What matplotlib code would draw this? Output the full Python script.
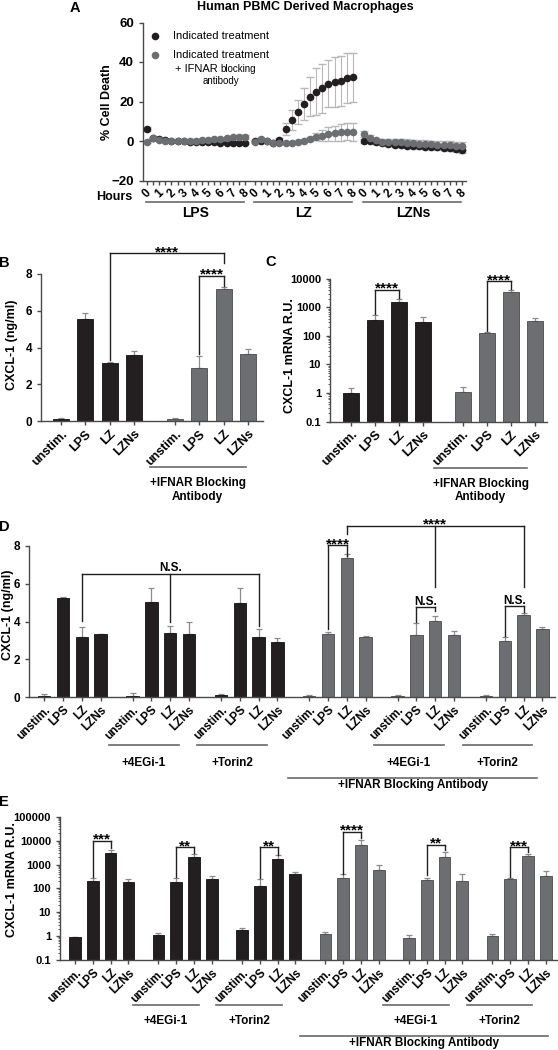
import numpy as np
import matplotlib
matplotlib.use("Agg")
import matplotlib.pyplot as plt
from matplotlib.ticker import LogLocator, NullFormatter

# ---------------- data: panel A (% cell death, every 30 min, 0-8 h) ----------------
hour_labels = ["0", "1", "2", "3", "4", "5", "6", "7", "8"]
treatments = ["LPS", "LZ", "LZNs"]

lps_ctrl = [6.1, 1.5, 0.8, 0.3, 0.0, 0.0, -0.2, -0.3, -0.4, -0.5, -0.6, -0.7, -0.8, -0.8, -0.8, -0.9, -1.2]
lps_ctrl_sd = [0.8, 0.5, 0.4, 0.4, 0.4, 0.4, 0.4, 0.4, 0.5, 0.5, 0.5, 0.5, 0.5, 0.5, 0.5, 0.5, 0.5]
lps_ifnar = [-0.5, 1.5, 0.6, 0.1, 0.0, 0.0, 0.0, 0.0, 0.2, 0.4, 0.6, 0.8, 1.0, 1.4, 1.8, 2.0, 2.0]
lps_ifnar_sd = [0.5, 0.6, 0.5, 0.5, 0.5, 0.5, 0.5, 0.5, 0.6, 0.6, 0.7, 0.7, 0.8, 0.8, 0.9, 1.0, 1.0]

lz_ctrl = [0.0, 0.2, 0.0, -0.8, 0.5, 6.1, 10.7, 14.6, 18.6, 22.5, 25.0, 26.7, 28.9, 29.8, 30.5, 31.8, 32.3]
lz_ctrl_sd = [0.5, 0.5, 0.5, 0.5, 0.8, 3.2, 5.0, 6.2, 8.1, 9.8, 11.9, 12.4, 11.9, 12.7, 12.6, 12.7, 12.5]
lz_ifnar = [-0.3, 1.0, 0.2, -1.2, -1.2, -0.9, -0.9, -0.6, 0.2, 1.2, 2.2, 2.7, 3.6, 3.9, 4.4, 4.7, 4.7]
lz_ifnar_sd = [0.5, 0.5, 0.5, 0.5, 0.5, 0.5, 0.5, 0.6, 0.8, 1.0, 1.7, 2.9, 3.4, 3.7, 4.2, 4.3, 4.6]

lzns_ctrl = [0.2, 0.0, -0.5, -1.0, -1.4, -1.8, -2.0, -2.3, -2.5, -2.7, -2.9, -3.0, -3.2, -3.3, -3.5, -4.3, -4.5]
lzns_ctrl_sd = [1.0, 1.0, 0.9, 0.9, 1.0, 1.0, 1.1, 1.1, 1.2, 1.2, 1.2, 1.3, 1.3, 1.3, 1.4, 1.4, 1.4]
lzns_ifnar = [3.5, 1.6, 0.4, -0.4, -0.6, -0.6, -0.7, -0.9, -1.1, -1.3, -1.5, -1.7, -1.8, -2.0, -2.1, -2.5, -2.6]
lzns_ifnar_sd = [1.5, 1.2, 1.0, 1.2, 1.4, 1.5, 1.6, 1.7, 1.8, 1.8, 1.9, 1.9, 2.0, 2.0, 2.0, 2.1, 2.1]

# ---------------- data: bar panels ----------------
bar_labels = ["unstim.", "LPS", "LZ", "LZNs"]
inhibitors = ["+4EGi-1", "+Torin2"]
ifnar_label = "+IFNAR Blocking Antibody"

# B: CXCL-1 protein (ng/ml)
b_ctrl = [0.10, 5.55, 3.15, 3.60]
b_ctrl_err = [0.08, 0.35, 0.05, 0.22]
b_ifnar = [0.10, 2.90, 7.20, 3.65]
b_ifnar_err = [0.09, 0.65, 0.10, 0.25]

# C: CXCL-1 mRNA R.U.
c_ctrl = [1.0, 350, 1500, 300]
c_ctrl_err = [0.45, 165, 400, 150]
c_ifnar = [1.1, 125, 3500, 320]
c_ifnar_err = [0.5, 15, 400, 100]

# D: CXCL-1 protein, none / +4EGi-1 / +Torin2, without and with IFNAR block
d_ctrl = [[0.05, 5.22, 3.19, 3.32], [0.05, 5.04, 3.40, 3.33], [0.12, 4.96, 3.19, 2.89]]
d_ctrl_err = [[0.10, 0.08, 0.53, 0.04], [0.15, 0.74, 0.37, 0.62], [0.05, 0.79, 0.39, 0.21]]
d_ifnar = [[0.05, 3.32, 7.34, 3.16], [0.05, 3.28, 4.02, 3.28], [0.05, 2.96, 4.34, 3.58]]
d_ifnar_err = [[0.05, 0.10, 0.26, 0.06], [0.05, 0.62, 0.27, 0.20], [0.05, 0.23, 0.09, 0.11]]

# E: CXCL-1 mRNA R.U., same layout as D
e_ctrl = [[0.94, 209, 3090, 178], [1.11, 190, 2090, 245], [1.8, 129, 1700, 400]]
e_ctrl_err = [[0.02, 54, 910, 62], [0.19, 73, 780, 79], [0.3, 111, 750, 90]]
e_ifnar = [[1.19, 275, 6900, 615], [0.81, 223, 2090, 205], [1.0, 240, 2280, 325]]
e_ifnar_err = [[0.26, 115, 3500, 315], [0.29, 52, 1290, 185], [0.19, 23, 420, 225]]

# ---------------- style ----------------
plt.rcParams['font.family'] = ['Liberation Sans', 'DejaVu Sans']
plt.rcParams['font.weight'] = 'bold'
plt.rcParams['axes.labelweight'] = 'bold'

BLACK = '#231f20'
GRAY = '#6d6e71'
EDGE = {BLACK: '#111111', GRAY: '#4a4a4a'}
AXC = '#4a4a4a'
ERRC = '#8c8c8c'
ERR_A = '#b8b8b8'
LINEC = '#6a6a6a'

W, H = 558, 1050
fig = plt.figure(figsize=(W / 100, H / 100), dpi=100)


def add_ax(left, top, right, bottom):
    ax = fig.add_axes([left / W, 1 - bottom / H, (right - left) / W, (bottom - top) / H])
    ax._px = (left, top, right, bottom)
    return ax


def ftext(x, y, s, **kw):
    kw.setdefault('ha', 'center')
    kw.setdefault('va', 'center')
    fig.text(x / W, 1 - y / H, s, **kw)


def yfrac(ax, py):
    l, t, r, b = ax._px
    return (b - py) / (b - t)


def style(ax, fs=8):
    for s in ['top', 'right']:
        ax.spines[s].set_visible(False)
    for s in ['left', 'bottom']:
        ax.spines[s].set_color(AXC)
        ax.spines[s].set_linewidth(1.0)
    ax.tick_params(colors=AXC, labelcolor='black', width=1, length=3, labelsize=fs)


def under(ax, x0, x1, py):
    y = yfrac(ax, py)
    ax.plot([x0, x1], [y, y], transform=ax.get_xaxis_transform(), clip_on=False,
            color=LINEC, lw=1.2)


def under_text(ax, x, py, s, fs=8.5):
    ax.text(x, yfrac(ax, py), s, transform=ax.get_xaxis_transform(), ha='center',
            va='center', fontsize=fs, fontweight='bold')


def bracket(ax, xs, top, bottoms, text, fs=None):
    ax.plot([xs[0], xs[-1]], [top, top], color=BLACK, lw=1, clip_on=False)
    for x, b in zip(xs, bottoms):
        ax.plot([x, x], [b, top], color=BLACK, lw=1, clip_on=False)
    stars = text.startswith('*')
    ax.annotate(text, xy=((xs[0] + xs[-1]) / 2, top), xytext=(0, -2 if stars else 1.5),
                textcoords='offset points', ha='center', va='baseline',
                fontsize=fs or (11 if stars else 8.5), fontweight='bold',
                annotation_clip=False)


def draw_bars(ax, groups, errs, colors, step, fs):
    ticks = []
    for g, (vals, err, col) in enumerate(zip(groups, errs, colors)):
        x = g * step + np.arange(len(vals))
        ax.errorbar(x, vals, yerr=[np.zeros(len(vals)), err], fmt='none', ecolor=ERRC,
                    elinewidth=0.9, capsize=2.5, capthick=0.9, zorder=1)
        ax.bar(x, vals, width=0.66, color=col, edgecolor=EDGE[col], linewidth=0.6, zorder=2)
        ticks.extend(x)
    ax.set_xticks(ticks)
    ax.set_xticklabels(bar_labels * len(groups), rotation=45, ha='right',
                       rotation_mode='anchor', fontsize=fs)
    ax.tick_params(axis='x', pad=2)


def log_axis(ax, lo, hi):
    ax.set_yscale('log')
    ax.set_ylim(lo, hi)
    ticks = [10.0 ** k for k in range(int(np.log10(lo)), int(np.log10(hi)) + 1)]
    ax.set_yticks(ticks)
    ax.set_yticklabels(['%g' % t for t in ticks])
    ax.yaxis.set_minor_locator(LogLocator(base=10, subs=np.arange(2, 10)))
    ax.yaxis.set_minor_formatter(NullFormatter())
    ax.tick_params(axis='y', which='minor', length=1.5, width=0.6, colors=AXC)


# ---------------- panel A ----------------
axA = add_ax(143, 22.5, 466, 180.5)
style(axA, fs=9.5)
offsets = [0, 17.63, 35.43]
ctrl = [lps_ctrl, lz_ctrl, lzns_ctrl]
ctrl_sd = [lps_ctrl_sd, lz_ctrl_sd, lzns_ctrl_sd]
ifn = [lps_ifnar, lz_ifnar, lzns_ifnar]
ifn_sd = [lps_ifnar_sd, lz_ifnar_sd, lzns_ifnar_sd]
xt, xl = [], []
for k in range(3):
    x = offsets[k] + np.arange(len(ctrl[k]))
    axA.errorbar(x, ctrl[k], yerr=ctrl_sd[k], fmt='none', ecolor=ERR_A, elinewidth=0.8,
                 capsize=3, zorder=1)
    axA.errorbar(x, ifn[k], yerr=ifn_sd[k], fmt='none', ecolor=ERR_A, elinewidth=0.8,
                 capsize=3, zorder=1)
    axA.plot(x, ctrl[k], 'o', color=BLACK, ms=5.5, mec='none', zorder=3)
    axA.plot(x, ifn[k], 'o', color=GRAY, ms=5.5, mec='none', zorder=4)
    xt.extend(x)
    xl.extend([hour_labels[i // 2] if i % 2 == 0 else '' for i in range(len(x))])
    under(axA, x[0] - 0.2, x[-1] - 0.1, 201.7)
    under_text(axA, x[8], 213, treatments[k], fs=10)
axA.set_xlim(-0.65, 52.1)
axA.set_ylim(-20, 60)
axA.set_yticks([-20, 0, 20, 40, 60])
axA.set_xticks(xt)
axA.set_xticklabels(xl, rotation=45, fontsize=8.5)
axA.tick_params(axis='x', length=3, pad=1.5)

# legend drawn by hand
axA.plot([(155 - 143) / 323], [yfrac(axA, 35.7)], 'o', color=BLACK, ms=5.5, mec='none',
         transform=axA.transAxes, clip_on=False)
axA.plot([(155 - 143) / 323], [yfrac(axA, 54.5)], 'o', color=GRAY, ms=5.5, mec='none',
         transform=axA.transAxes, clip_on=False)
ftext(173, 35.7, "Indicated treatment", ha='left', fontsize=8, fontweight='normal')
ftext(173, 54.5, "Indicated treatment", ha='left', fontsize=8, fontweight='normal')
ftext(175, 69, "+ IFNAR", ha='left', fontsize=8, fontweight='normal')
ftext(220, 69.5, "blocking", ha='left', fontsize=7, fontweight='normal')
ftext(221, 80.5, "antibody", fontsize=7, fontweight='normal')

ftext(75, 8, "A", fontsize=10.5)
ftext(305, 7, "Human PBMC Derived Macrophages", fontsize=9)
ftext(107, 102, "% Cell Death", rotation=90, fontsize=9)
ftext(114, 197, "Hours", fontsize=9)

# ---------------- panel B ----------------
axB = add_ax(41, 274, 263, 421)
style(axB, fs=8.5)
sB = 4.67
draw_bars(axB, [b_ctrl, b_ifnar], [b_ctrl_err, b_ifnar_err], [BLACK, GRAY], sB, 9)
axB.set_xlim((41 - 61) / 24.4, (263 - 61) / 24.4)
axB.set_ylim(0, 8)
axB.set_yticks([0, 2, 4, 6, 8])
bracket(axB, [2, sB + 2], 9.13, [3.32, 8.59], '****')
bracket(axB, [sB + 1, sB + 2], 7.9, [3.62, 7.35], '****')
under(axB, 3.65, 7.58, 467)
under_text(axB, 5.6, 483, "+IFNAR Blocking")
under_text(axB, 5.6, 497, "Antibody")
ftext(4, 263, "B", fontsize=10.5)
ftext(12, 345, "CXCL-1 (ng/ml)", rotation=90, fontsize=9)

# ---------------- panel C ----------------
axC = add_ax(330, 278.6, 547, 421.7)
style(axC, fs=8)
log_axis(axC, 0.1, 10000)
sC = 4.65
draw_bars(axC, [c_ctrl, c_ifnar], [c_ctrl_err, c_ifnar_err], [BLACK, GRAY], sC, 9)
axC.set_xlim((330 - 351) / 24, (547 - 351) / 24)
bracket(axC, [1, 2], 4100, [560, 2040], '****')
bracket(axC, [sC + 1, sC + 2], 7950, [150, 4200], '****')
under(axC, 3.46, 7.33, 468)
under_text(axC, 5.4, 484, "+IFNAR Blocking")
under_text(axC, 5.4, 497, "Antibody")
ftext(271, 262, "C", fontsize=10.5)
ftext(290, 356, "CXCL-1 mRNA R.U.", rotation=90, fontsize=9)

# ---------------- panel D ----------------
axD = add_ax(29, 546, 555, 697)
style(axD, fs=8.5)
sD = 4.7
draw_bars(axD, d_ctrl + d_ifnar, d_ctrl_err + d_ifnar_err, [BLACK] * 3 + [GRAY] * 3, sD, 8.5)
axD.set_xlim((29 - 44.2) / 18.8, (555 - 44.2) / 18.8)
axD.set_ylim(0, 8)
axD.set_yticks([0, 2, 4, 6, 8])
bracket(axD, [2, sD + 2, 2 * sD + 2], 6.54, [4.05, 4.0, 3.75], 'N.S.')
bracket(axD, [3 * sD + 2, 4 * sD + 2, 5 * sD + 2], 9.05, [8.62, 5.82, 5.82], '****')
bracket(axD, [3 * sD + 1, 3 * sD + 2], 8.04, [3.58, 7.46], '****')
bracket(axD, [4 * sD + 1, 4 * sD + 2], 4.78, [3.95, 4.55], 'N.S.')
bracket(axD, [5 * sD + 1, 5 * sD + 2], 4.83, [3.25, 4.51], 'N.S.')
for g, name in zip([1, 2, 4, 5], inhibitors * 2):
    under(axD, g * sD - 1.25, g * sD + 2.45, 745)
    under_text(axD, g * sD + 0.6, 763, name)
under(axD, 3 * sD - 1.13, 5 * sD + 2.7, 777.7)
under_text(axD, 19.6, 785, ifnar_label)
ftext(4, 527, "D", fontsize=10.5)
ftext(8, 615, "CXCL-1 (ng/ml)", rotation=90, fontsize=9)

# ---------------- panel E ----------------
axE = add_ax(60, 816.8, 557, 960)
style(axE, fs=8)
log_axis(axE, 0.1, 100000)
sE = 4.69
draw_bars(axE, e_ctrl + e_ifnar, e_ctrl_err + e_ifnar_err, [BLACK] * 3 + [GRAY] * 3, sE, 8.5)
axE.set_xlim((60 - 75) / 17.8, (557 - 75) / 17.8)
bracket(axE, [1, 2], 9800, [305, 4850], '***')
bracket(axE, [sE + 1, sE + 2], 5190, [305, 3090], '**')
bracket(axE, [2 * sE + 1, 2 * sE + 2], 5190, [277, 2630], '**')
bracket(axE, [3 * sE + 1, 3 * sE + 2], 23400, [385, 13100], '****')
bracket(axE, [4 * sE + 1, 4 * sE + 2], 6480, [360, 3990], '**')
bracket(axE, [5 * sE + 1, 5 * sE + 2], 5190, [305, 3200], '***')
for g, name in zip([1, 2, 4, 5], inhibitors * 2):
    under(axE, g * sE - 1.45, g * sE + 2.25, 1005)
    under_text(axE, g * sE + 0.4, 1021, name)
under(axE, 3 * sE - 1.43, 5 * sE + 3.1, 1035.7)
under_text(axE, 19.6, 1043, ifnar_label)
ftext(4, 802, "E", fontsize=10.5)
ftext(12, 880, "CXCL-1 mRNA R.U.", rotation=90, fontsize=9)

fig.savefig("out.png", dpi=100)
